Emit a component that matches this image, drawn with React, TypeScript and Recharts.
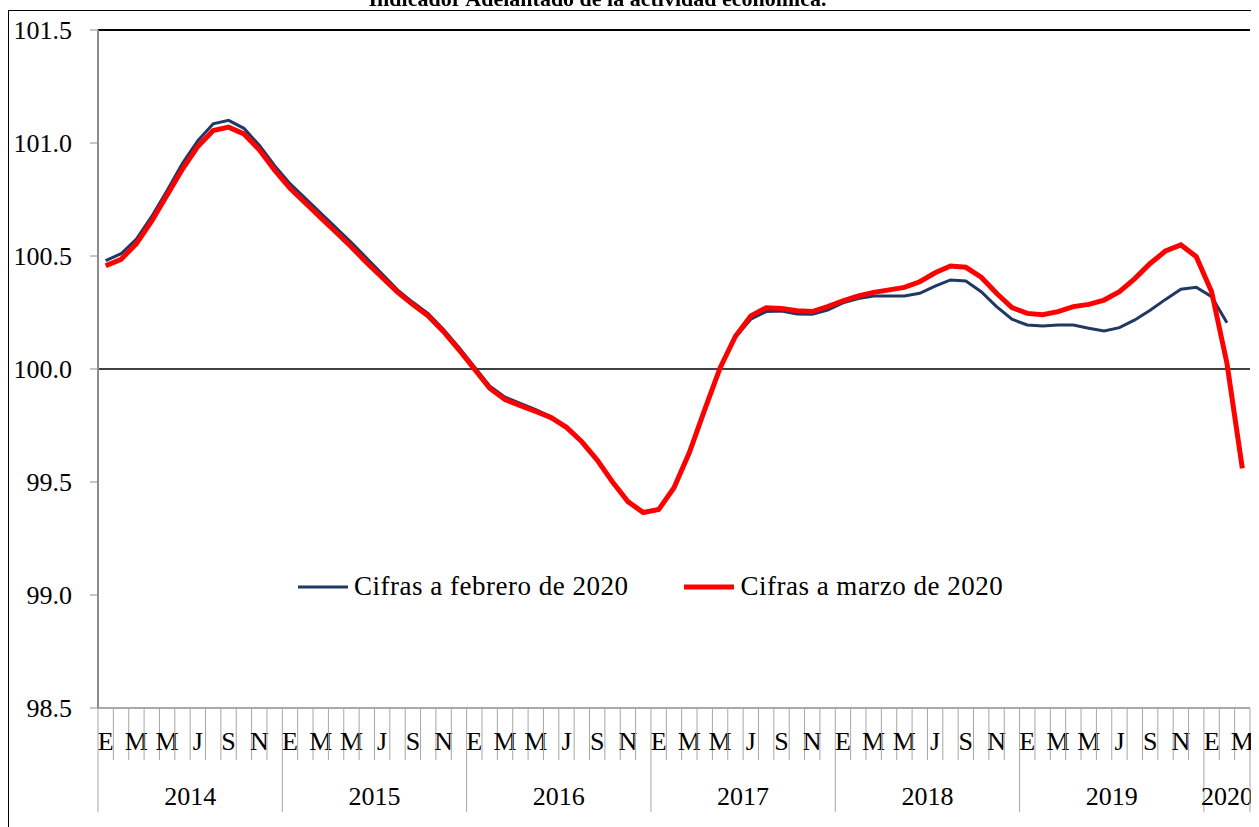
import React from 'react';
import { LineChart, Line, XAxis, YAxis, ReferenceLine, Legend } from 'recharts';

const monthLetters = ['E', 'F', 'M', 'A', 'M', 'J', 'J', 'A', 'S', 'O', 'N', 'D'];
const years = [2014, 2015, 2016, 2017, 2018, 2019, 2020];
const monthsInYear = [12, 12, 12, 12, 12, 12, 3];
const yTicks = [98.5, 99.0, 99.5, 100.0, 100.5, 101.0, 101.5];

const febrero2020 = [
  100.48, 100.51, 100.575, 100.675, 100.79, 100.91, 101.01, 101.085, 101.1, 101.065, 100.99, 100.9,
  100.82, 100.755, 100.69, 100.625, 100.56, 100.49, 100.42, 100.35, 100.295, 100.245, 100.175, 100.095,
  100.01, 99.925, 99.875, 99.848, 99.82, 99.788, 99.742, 99.678, 99.597, 99.5, 99.413, 99.367,
  99.38, 99.475, 99.63, 99.82, 100.005, 100.14, 100.22, 100.254, 100.257, 100.243, 100.242, 100.261,
  100.293, 100.312, 100.323, 100.323, 100.323, 100.335, 100.367, 100.394, 100.389, 100.342, 100.276, 100.22,
  100.195, 100.19, 100.195, 100.195, 100.18, 100.168, 100.183, 100.217, 100.26, 100.308, 100.353, 100.362,
  100.32, 100.205,
];

const marzo2020 = [
  100.457, 100.485, 100.555, 100.655, 100.77, 100.885, 100.985, 101.055, 101.07, 101.04, 100.97, 100.88,
  100.8, 100.735, 100.67, 100.605, 100.54, 100.47, 100.405, 100.34, 100.285, 100.235, 100.165, 100.085,
  100.0, 99.915, 99.865, 99.838, 99.812, 99.785, 99.742, 99.678, 99.597, 99.5, 99.413, 99.365,
  99.378, 99.475, 99.63, 99.82, 100.005, 100.145, 100.235, 100.271, 100.268, 100.258, 100.254, 100.276,
  100.302, 100.323, 100.339, 100.35, 100.361, 100.386, 100.426, 100.456, 100.45, 100.406, 100.335, 100.272,
  100.246, 100.24, 100.254, 100.276, 100.286, 100.305, 100.342, 100.4, 100.467, 100.522, 100.549, 100.497,
  100.342, 100.025, 99.56,
];

const seriesNames = ['Cifras a febrero de 2020', 'Cifras a marzo de 2020'];
const seriesColors = ['#1F3864', '#FF0000'];

type Row = { m: string; idx: number; feb: number | null; mar: number | null };
const data: Row[] = [];
years.forEach((yr, yi) => {
  for (let k = 0; k < monthsInYear[yi]; k++) {
    const idx = data.length;
    data.push({
      m: `${monthLetters[k]}-${yr}`,
      idx,
      feb: idx < febrero2020.length ? febrero2020[idx] : null,
      mar: idx < marzo2020.length ? marzo2020[idx] : null,
    });
  }
});

const FONT = '"Liberation Serif", "Times New Roman", serif';
const TICK_GRAY = '#A6A6A6';
const PLOT_W = 1152;
const HALF_BAND = PLOT_W / data.length / 2;

const XTick = (props: any) => {
  const { x, y, payload, index } = props;
  const i: number = payload && typeof payload.index === 'number' ? payload.index : index;
  const off = HALF_BAND;
  const bw = off * 2;
  const m = i % 12;
  const yi = Math.floor(i / 12);
  const left = x - off;
  const isLast = i === data.length - 1;
  return (
    <g>
      <line x1={left} y1={y} x2={left} y2={m === 0 ? y + 104 : y + 52} stroke={TICK_GRAY} strokeWidth={1} />
      {isLast && <line x1={x + off} y1={y} x2={x + off} y2={y + 104} stroke={TICK_GRAY} strokeWidth={1} />}
      {m % 2 === 0 && (
        <text x={x} y={y + 42} textAnchor="middle" fontFamily={FONT} fontSize={26} fill="#000">
          {monthLetters[m]}
        </text>
      )}
      {m === 0 && (
        <text x={left + (monthsInYear[yi] * bw) / 2} y={y + 97} textAnchor="middle" fontFamily={FONT} fontSize={26} fill="#000">
          {years[yi]}
        </text>
      )}
    </g>
  );
};

const LegendContent = () => (
  <div style={{ display: 'flex', alignItems: 'center', fontFamily: FONT, fontSize: 27, color: '#000', whiteSpace: 'nowrap', letterSpacing: 0.5 }}>
    {seriesNames.map((n, k) => (
      <div key={n} style={{ display: 'flex', alignItems: 'center', marginRight: k === 0 ? 56 : 0 }}>
        <svg width={50} height={20} style={{ marginRight: 6 }}>
          <line x1={0} y1={10} x2={50} y2={10} stroke={seriesColors[k]} strokeWidth={k === 0 ? 3 : 5} />
        </svg>
        <span>{n}</span>
      </div>
    ))}
  </div>
);

export default function App() {
  return (
    <div style={{ position: 'relative', width: 1251, height: 819 }}>
      <div style={{ position: 'absolute', left: 0, top: 2, width: 1260, height: 830, borderLeft: '1px solid #000', borderTop: '1px solid #000' }} />
      <div
        style={{
          position: 'fixed',
          left: 0,
          top: -12,
          width: 1195,
          textAlign: 'center',
          fontFamily: FONT,
          fontWeight: 'bold',
          fontSize: 22,
          lineHeight: '22px',
          color: '#000',
          whiteSpace: 'nowrap',
          zIndex: 5,
        }}
      >
        Indicador Adelantado de la actividad económica.
      </div>
      <div style={{ position: 'absolute', left: 0, top: 0 }}>
        <LineChart width={1251} height={819} data={data} margin={{ top: 22, right: 9, bottom: 9, left: 10 }}>
          <XAxis
            dataKey="m"
            padding={{ left: HALF_BAND, right: HALF_BAND }}
            interval={0}
            height={110}
            tickSize={0}
            tickMargin={0}
            tickLine={false}
            axisLine={{ stroke: '#8C8C8C', strokeWidth: 1.5 }}
            tick={<XTick />}
          />
          <YAxis
            domain={[98.5, 101.5]}
            ticks={yTicks}
            width={80}
            tickSize={8}
            tickMargin={18}
            interval={0}
            allowDataOverflow
            tickFormatter={(v: number) => v.toFixed(1)}
            tick={{ fontFamily: FONT, fontSize: 26, fill: '#000' }}
            tickLine={{ stroke: '#8C8C8C' }}
            axisLine={{ stroke: '#8C8C8C', strokeWidth: 2 }}
          />
          <YAxis
            yAxisId="right"
            orientation="right"
            domain={[98.5, 101.5]}
            width={0}
            tick={false}
            tickLine={false}
            axisLine={{ stroke: '#000', strokeWidth: 2 }}
          />
          <ReferenceLine y={101.5} stroke="#000" strokeWidth={2} />
          <ReferenceLine y={100} stroke="#000" strokeWidth={1.5} />
          <Legend
            layout="horizontal"
            verticalAlign="middle"
            align="center"
            content={<LegendContent />}
            wrapperStyle={{ position: 'absolute', left: 290, top: 563, right: 'auto', bottom: 'auto', width: 'auto' }}
          />
          <Line
            type="linear"
            dataKey="feb"
            name={seriesNames[0]}
            stroke={seriesColors[0]}
            strokeWidth={3}
            dot={false}
            activeDot={false}
            isAnimationActive={false}
          />
          <Line
            type="linear"
            dataKey="mar"
            name={seriesNames[1]}
            stroke={seriesColors[1]}
            strokeWidth={5}
            dot={false}
            activeDot={false}
            isAnimationActive={false}
          />
        </LineChart>
      </div>
    </div>
  );
}
